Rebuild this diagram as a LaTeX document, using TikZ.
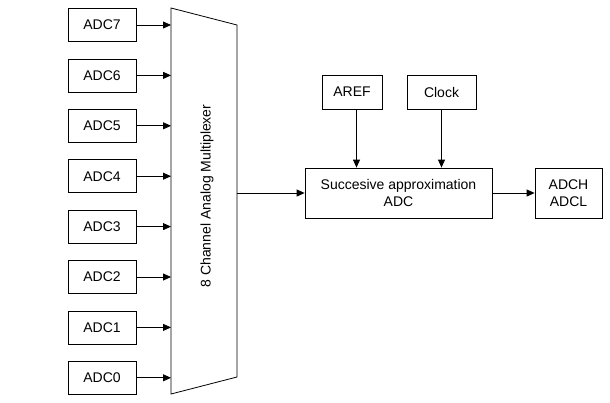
\documentclass[tikz,border=0pt]{standalone}
\usepackage{fontspec}
\setmainfont{Liberation Sans}
\usetikzlibrary{arrows.meta}

\begin{document}
\begin{tikzpicture}[x=1pt, y=-1pt, line width=0.8pt, font=\fontsize{14}{16.5}\selectfont,
	box/.style = {shape=rectangle, draw, align=center, inner sep=0pt, minimum height=33pt, minimum width=68pt},
	link/.style = {-{Triangle[length=8pt,width=7pt]}}]
	\useasboundingbox (0,0) rectangle (610,402);
	% inputs
	\foreach \i in {0,...,7}
		\node[box] (adc\i) at (102,{25+(7-\i)*50.4}) {ADC\i};
	% multiplexer
	\coordinate (mux-tl) at (171,8);
	\coordinate (mux-tr) at (237,25);
	\coordinate (mux-br) at (237,377);
	\coordinate (mux-bl) at (171,394);
	\draw (mux-tl) -- (mux-tr) -- (mux-br) -- (mux-bl) -- cycle;
	\node[rotate=90] (mux) at (207,196) {8 Channel Analog Multiplexer};
	\foreach \i in {0,...,7}
		\draw[link] (adc\i.east) -- (adc\i.east -| mux-tl);
	% converter
	\node[box, minimum width=187pt, minimum height=50pt] (sa) at (398.5,193) {Succesive approximation\\ADC};
	\node[box, minimum width=60pt, minimum height=34pt] (aref) at (352,92) {AREF};
	\node[box, minimum width=69pt, minimum height=34pt] (clock) at (441.5,92) {Clock};
	\node[box, minimum width=67pt, minimum height=50pt] (adch) at (568.5,193) {ADCH\\ADCL};
	\coordinate (mux-out) at (237,193);
	\draw[link] (mux-out) -- (sa.west);
	\draw[link] ([xshift=4.5pt]aref.south) -- ([xshift=4.5pt]aref.south |- sa.north);
	\draw[link] (clock.south) -- (clock.south |- sa.north);
	\draw[link] (sa.east) -- (adch.west);
\end{tikzpicture}
\end{document}
